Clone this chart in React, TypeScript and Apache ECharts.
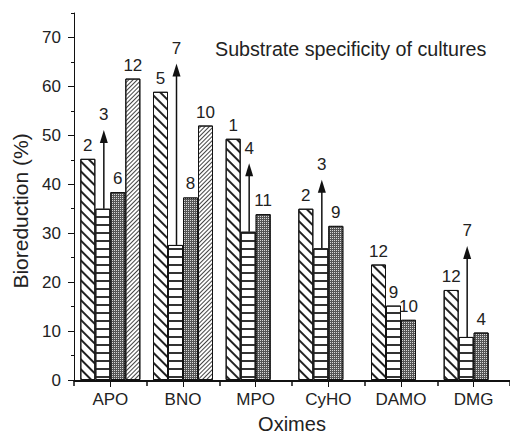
import React, { useEffect, useRef } from 'react';
import * as echarts from 'echarts';

const categories = ['APO', 'BNO', 'MPO', 'CyHO', 'DAMO', 'DMG'];
const series1Values = [45.2, 58.9, 49.3, 35.0, 23.6, 18.4];
const series2Values = [35.0, 27.6, 30.3, 26.9, 15.2, 8.8];
const series3Values = [38.4, 37.3, 33.9, 31.5, 12.3, 9.7];
const series4Values: (number | null)[] = [61.6, 52.0, null, null, null, null];
const series1Labels = ['2', '5', '1', '2', '12', '12'];
const series2Labels = ['', '', '', '', '9', ''];
const series3Labels = ['6', '8', '11', '9', '10', '4'];
const series4Labels = ['12', '10', '', '', '', ''];
const arrowCategories = ['APO', 'BNO', 'MPO', 'CyHO', 'DMG'];
const arrowTips = [51.1, 64.7, 44.3, 40.9, 27.4];
const arrowLabels = ['3', '7', '4', '3', '7'];

const FONT = '"Liberation Sans", Arial, Helvetica, sans-serif';
const TXT = '#222';

export default function App() {
  const ref = useRef<HTMLDivElement>(null);
  useEffect(() => {
    if (!ref.current) return;
    const chart = echarts.init(ref.current, null, { renderer: 'svg' });
    const labelStyle = (labels: string[]) => ({
      show: true,
      position: 'top' as const,
      distance: 5,
      fontFamily: FONT,
      fontSize: 17,
      color: TXT,
      formatter: (p: any) => labels[p.dataIndex] || '',
    });
    const arrowData = arrowCategories.map((c, i) => {
      const idx = categories.indexOf(c);
      return [idx, series2Values[idx], arrowTips[i]];
    });
    const grid = { left: 74, top: 13, right: -11, bottom: 58 };
    chart.setOption({
      animation: false,
      backgroundColor: '#fff',
      textStyle: { fontFamily: FONT },
      title: {
        text: 'Substrate specificity of cultures',
        left: 210,
        top: 34,
        textStyle: { fontFamily: FONT, fontSize: 19.7, fontWeight: 'normal', color: TXT },
      },
      grid: [grid, grid],
      xAxis: [
        {
          type: 'category',
          gridIndex: 0,
          position: 'bottom',
          data: categories,
          axisLine: { lineStyle: { color: '#111', width: 1 } },
          axisTick: { show: true, alignWithLabel: true, length: 7, lineStyle: { color: '#111' } },
          axisLabel: { fontFamily: FONT, fontSize: 17, color: TXT, margin: 11 },
          name: 'Oximes',
          nameLocation: 'middle',
          nameGap: 34,
          nameTextStyle: { fontFamily: FONT, fontSize: 20, color: TXT },
        },
        {
          type: 'category',
          gridIndex: 0,
          position: 'top',
          data: categories,
          axisLine: { show: true, lineStyle: { color: '#111', width: 1 } },
          axisTick: { show: false },
          axisLabel: { show: false },
        },
        {
          type: 'category',
          gridIndex: 1,
          position: 'bottom',
          data: categories,
          axisLine: { show: true, lineStyle: { color: '#111', width: 1 } },
          axisTick: { show: true, alignWithLabel: false, length: 5, lineStyle: { color: '#111', width: 1.5 } },
          axisLabel: { show: false },
        },
      ],
      yAxis: [
        {
          type: 'value',
          gridIndex: 0,
          position: 'left',
          min: 0,
          max: 75,
          interval: 10,
          splitLine: { show: false },
          axisLine: { show: true, lineStyle: { color: '#111', width: 1 } },
          axisTick: { show: true, length: 6, lineStyle: { color: '#111' } },
          axisLabel: { fontFamily: FONT, fontSize: 17, color: TXT, margin: 13, showMaxLabel: false },
          name: 'Bioreduction (%)',
          nameLocation: 'middle',
          nameGap: 40,
          nameTextStyle: { fontFamily: FONT, fontSize: 21, color: TXT, padding: [0, 29, 0, 0] },
        },
        {
          type: 'value',
          gridIndex: 0,
          position: 'left',
          min: 0,
          max: 75,
          interval: 5,
          splitLine: { show: false },
          axisLine: { show: false },
          axisTick: { show: true, length: 3, lineStyle: { color: '#111' } },
          axisLabel: { show: false },
        },
        {
          type: 'value',
          gridIndex: 1,
          min: 0,
          max: 75,
          show: false,
        },
      ],
      series: [
        {
          type: 'bar',
          xAxisIndex: 0,
          yAxisIndex: 0,
          data: series1Values,
          barWidth: 15,
          barGap: '0%',
          itemStyle: {
            color: '#fff',
            borderColor: '#111',
            borderWidth: 1,
            decal: {
              symbol: 'rect',
              symbolSize: 1,
              color: '#222',
              dashArrayX: [1, 0],
              dashArrayY: [1.3, 4.4],
              rotation: Math.PI / 4,
            },
          },
          label: labelStyle(series1Labels),
        },
        {
          type: 'bar',
          xAxisIndex: 0,
          yAxisIndex: 0,
          data: series2Values,
          barWidth: 15,
          barGap: '0%',
          itemStyle: {
            color: '#fff',
            borderColor: '#111',
            borderWidth: 1,
            decal: {
              symbol: 'rect',
              symbolSize: 1,
              color: '#333',
              dashArrayX: [1, 0],
              dashArrayY: [1.8, 5.9],
              rotation: 0,
            },
          },
          label: labelStyle(series2Labels),
        },
        {
          type: 'bar',
          xAxisIndex: 0,
          yAxisIndex: 0,
          data: series3Values,
          barWidth: 15,
          barGap: '0%',
          itemStyle: {
            color: '#555',
            borderColor: '#111',
            borderWidth: 1,
            decal: {
              symbol: 'rect',
              symbolSize: 1,
              color: '#d8d8d8',
              dashArrayX: [1, 1],
              dashArrayY: [1, 1],
              rotation: 0,
            },
          },
          label: labelStyle(series3Labels),
        },
        {
          type: 'bar',
          xAxisIndex: 0,
          yAxisIndex: 0,
          data: series4Values,
          barWidth: 15,
          barGap: '0%',
          itemStyle: {
            color: '#fff',
            borderColor: '#111',
            borderWidth: 1,
            decal: {
              symbol: 'rect',
              symbolSize: 1,
              color: '#444',
              dashArrayX: [1, 0],
              dashArrayY: [1, 2],
              rotation: -Math.PI / 4,
            },
          },
          label: labelStyle(series4Labels),
        },
        {
          type: 'custom',
          xAxisIndex: 0,
          yAxisIndex: 0,
          clip: false,
          z: 10,
          data: arrowData,
          renderItem: (params: any, api: any) => {
            const i = params.dataIndex;
            const base = api.coord([api.value(0), api.value(1)]);
            const tip = api.coord([api.value(0), api.value(2)]);
            const x = base[0] - 6.5;
            const headL = 13;
            const headW = 4;
            return {
              type: 'group',
              children: [
                {
                  type: 'line',
                  shape: { x1: x, y1: base[1], x2: x, y2: tip[1] + headL - 1 },
                  style: { stroke: '#111', lineWidth: 1.5 },
                },
                {
                  type: 'polygon',
                  shape: { points: [[x, tip[1]], [x - headW, tip[1] + headL], [x + headW, tip[1] + headL]] },
                  style: { fill: '#111' },
                },
                {
                  type: 'text',
                  x: x,
                  y: tip[1] - 15,
                  style: {
                    text: arrowLabels[i],
                    fill: TXT,
                    fontFamily: FONT,
                    fontSize: 17,
                    textAlign: 'center',
                    textVerticalAlign: 'middle',
                  },
                },
              ],
            };
          },
        },
      ],
    });
    return () => chart.dispose();
  }, []);
  return <div ref={ref} style={{ width: 510, height: 439, position: 'absolute', left: 0, top: 0 }} />;
}
